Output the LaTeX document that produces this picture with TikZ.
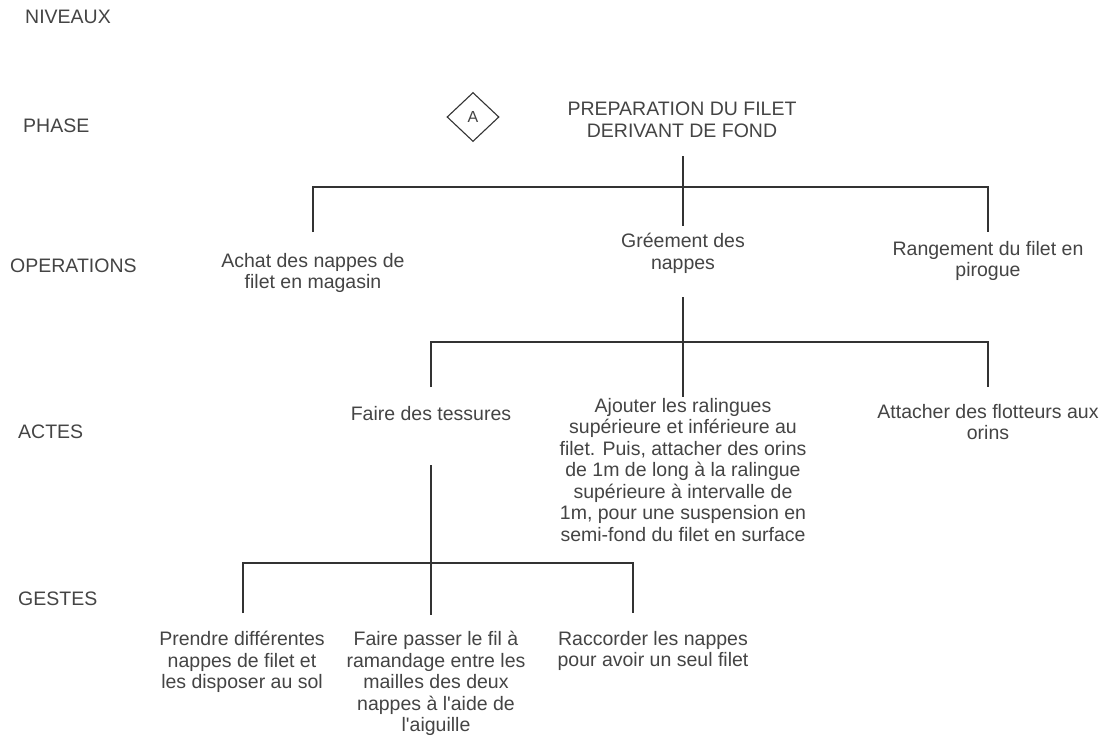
\documentclass[tikz,border=0pt]{standalone}
\usepackage{fontspec}
\setmainfont{Liberation Sans}[Ligatures=TeXOff]
\usetikzlibrary{shapes.geometric}
\definecolor{txt}{RGB}{68,68,68}
\definecolor{ln}{RGB}{51,51,51}
\tikzset{
  lbl/.style={anchor=west, inner sep=0pt, text=txt, font=\fontsize{19.5}{21.5}\selectfont},
  box/.style={anchor=north, inner sep=0pt, align=center, text=txt, font=\fontsize{19.5}{21.5}\selectfont},
  conn/.style={draw=ln, line width=1.2pt},
  dia/.style={diamond, draw=ln, line width=1.1pt, minimum width=52pt, minimum height=49pt, inner sep=0pt, text=txt, font=\fontsize{16}{18}\selectfont}
}
\begin{document}
\begin{tikzpicture}[x=1pt,y=-1pt]
\useasboundingbox (0,0) rectangle (1108,742);
\fill[white] (0,0) rectangle (1108,742);
% level labels
\node[lbl] (niv) at (25,17) {NIVEAUX};
\node[lbl] (pha) at (23,126) {PHASE};
\node[lbl] (ope) at (10,266) {OPERATIONS};
\node[lbl] (act) at (18,432) {ACTES};
\node[lbl] (ges) at (18,599) {GESTES};
% phase
\node[dia] (dA) at (473,117) {A};
\node[box] (title) at (682,102) {PREPARATION DU FILET\\DERIVANT DE FOND};
% operations
\node[box] (op1) at (313,253) {Achat des nappes de\\filet en magasin};
\node[box] (op2) at (683,233) {Gréement des\\nappes};
\node[box] (op3) at (988,241) {Rangement du filet en\\pirogue};
% actes
\node[box] (ac1) at (431,406) {Faire des tessures};
\node[box] (ac2) at (683,398) {Ajouter les ralingues\\supérieure et inférieure au\\filet. Puis, attacher des orins\\de 1m de long à la ralingue\\supérieure à intervalle de\\1m, pour une suspension en\\semi-fond du filet en surface};
\node[box] (ac3) at (988,404) {Attacher des flotteurs aux\\orins};
% gestes
\node[box] (g1) at (242,631) {Prendre différentes\\nappes de filet et\\les disposer au sol};
\node[box] (g2) at (436,631) {Faire passer le fil à\\ramandage entre les\\mailles des deux\\nappes à l'aide de\\l'aiguille};
\node[box] (g3) at (653,631) {Raccorder les nappes\\pour avoir un seul filet};
% connector coordinates
\coordinate (t1) at (683,156);
\coordinate (j1) at (683,187);
\coordinate (e1c) at (683,226);
\coordinate (e1l) at (313,232);
\coordinate (e1r) at (988,232);
\coordinate (t2) at (683,297);
\coordinate (j2) at (683,342);
\coordinate (e2c) at (683,397);
\coordinate (e2l) at (431,387);
\coordinate (e2r) at (988,387);
\coordinate (t3) at (431,465);
\coordinate (j3) at (431,563);
\coordinate (e3c) at (431,615);
\coordinate (e3l) at (243,613);
\coordinate (e3r) at (633,613);
% connectors
\draw[conn] (t1) -- (e1c);
\draw[conn] (e1l) |- (j1) -| (e1r);
\draw[conn] (t2) -- (e2c);
\draw[conn] (e2l) |- (j2) -| (e2r);
\draw[conn] (t3) -- (e3c);
\draw[conn] (e3l) |- (j3) -| (e3r);
\end{tikzpicture}
\end{document}
